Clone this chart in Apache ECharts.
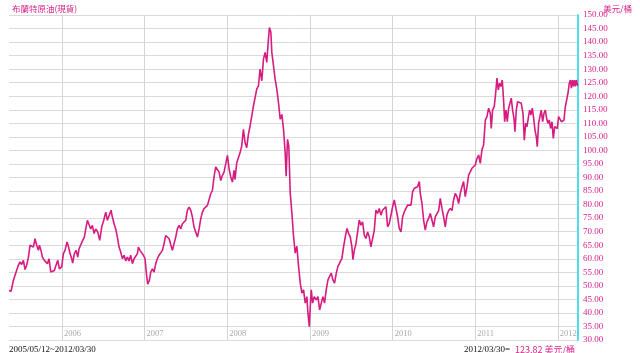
<!DOCTYPE html>
<html><head><meta charset="utf-8">
<script src="https://cdn.jsdelivr.net/npm/echarts@6/dist/echarts.min.js"></script>
<style>html,body{margin:0;padding:0;background:#fff}#c{width:640px;height:353px}</style>
</head><body><div id="c"></div>
<script>
// Brent crude (spot), USD/barrel. Dates as fractional years.
const chartTitle = '布蘭特原油(現貨)';
const unitLabel = '美元/桶';
const startDateLabel = '2005/05/12';
const endDateLabel = '2012/03/30';
const yTicks = { min: 30, max: 150, step: 5 };

const years = [
2005.359,2005.384,2005.412,2005.432,2005.452,2005.472,2005.493,2005.513,2005.533,2005.553,
2005.573,2005.594,2005.614,2005.634,2005.654,2005.674,2005.694,2005.715,2005.727,2005.747,
2005.763,2005.787,2005.803,2005.824,2005.844,2005.864,2005.884,2005.908,2005.928,2005.949,
2005.969,2005.997,2006.017,2006.037,2006.062,2006.078,2006.098,2006.118,2006.130,2006.150,
2006.171,2006.191,2006.207,2006.231,2006.251,2006.271,2006.288,2006.308,2006.328,2006.348,
2006.368,2006.389,2006.409,2006.433,2006.457,2006.481,2006.506,2006.530,2006.550,2006.570,
2006.594,2006.610,2006.631,2006.651,2006.671,2006.691,2006.711,2006.732,2006.752,2006.772,
2006.792,2006.812,2006.832,2006.853,2006.873,2006.893,2006.913,2006.925,2006.945,2006.966,
2006.986,2007.006,2007.022,2007.038,2007.058,2007.075,2007.095,2007.115,2007.135,2007.155,
2007.175,2007.196,2007.216,2007.236,2007.256,2007.276,2007.297,2007.317,2007.337,2007.357,
2007.377,2007.397,2007.418,2007.438,2007.458,2007.478,2007.498,2007.518,2007.539,2007.559,
2007.579,2007.599,2007.619,2007.640,2007.660,2007.680,2007.700,2007.720,2007.740,2007.761,
2007.781,2007.801,2007.821,2007.841,2007.861,2007.882,2007.902,2007.922,2007.942,2007.962,
2007.983,2008.003,2008.023,2008.043,2008.063,2008.083,
2008.095,2008.115,2008.135,2008.155,2008.175,2008.196,2008.216,2008.236,2008.256,2008.276,
2008.297,2008.317,2008.337,2008.357,2008.377,2008.397,2008.418,2008.438,2008.458,2008.478,
2008.498,2008.510,2008.527,2008.539,2008.559,2008.579,2008.599,2008.619,2008.640,2008.660,
2008.680,2008.700,2008.712,2008.728,2008.744,2008.761,2008.781,2008.801,2008.821,2008.841,
2008.862,2008.882,2008.902,2008.922,2008.942,2008.962,2008.975,2008.991,2009.003,2009.015,
2009.031,2009.051,2009.075,2009.096,2009.116,2009.136,2009.156,2009.176,2009.196,2009.217,
2009.237,2009.257,2009.277,2009.297,2009.318,2009.338,2009.358,
2009.386,2009.406,2009.427,2009.447,2009.467,2009.487,2009.507,2009.519,2009.536,2009.556,
2009.576,2009.596,2009.616,2009.636,2009.657,2009.677,2009.697,2009.717,2009.737,2009.758,
2009.778,2009.798,2009.818,2009.838,2009.858,2009.879,2009.899,2009.919,2009.939,2009.959,
2009.980,2010.000,2010.020,2010.040,2010.060,2010.080,2010.101,2010.121,2010.141,2010.161,
2010.181,2010.201,2010.222,2010.242,2010.262,2010.282,2010.302,2010.323,2010.335,2010.355,
2010.375,2010.395,2010.415,2010.436,2010.456,2010.476,2010.496,2010.516,2010.536,2010.557,
2010.577,2010.597,2010.617,2010.637,2010.657,2010.678,2010.698,2010.718,2010.738,2010.758,
2010.779,2010.799,2010.819,2010.839,2010.859,2010.879,2010.900,2010.920,2010.940,2010.960,
2010.980,2011.000,2011.021,2011.041,2011.061,2011.081,
2011.101,2011.122,2011.142,2011.162,2011.182,2011.194,2011.210,2011.230,2011.247,2011.263,
2011.279,2011.295,2011.311,2011.327,2011.343,2011.356,2011.372,2011.388,2011.404,2011.420,
2011.436,2011.452,2011.469,2011.481,2011.497,2011.513,2011.533,2011.557,2011.578,2011.594,
2011.610,2011.626,2011.642,2011.658,2011.674,2011.691,2011.707,2011.723,2011.739,2011.751,
2011.767,2011.783,2011.799,2011.816,2011.832,2011.848,2011.864,2011.880,2011.896,2011.912,
2011.929,2011.945,2011.961,2011.977,2011.993,2012.009,2012.025,2012.042,2012.058,2012.074,
2012.090,2012.106,2012.122,2012.138,2012.151,2012.163,2012.175,2012.187,2012.199,2012.211,
2012.223,2012.235,2012.243
];

const prices = [
48.3,48.0,52.0,53.9,53.3,57.6,58.8,57.9,59.4,56.0,
57.6,60.6,65.0,65.6,64.3,67.4,65.0,63.1,65.0,63.0,
60.6,59.4,60.0,58.2,60.0,55.1,54.5,55.7,57.6,59.4,
56.3,57.0,61.9,63.1,66.2,64.6,61.9,60.0,58.4,61.9,
63.1,60.6,63.7,64.3,66.8,68.0,71.0,74.2,73.6,71.0,
72.3,69.3,71.0,69.9,66.8,71.7,74.2,77.2,74.2,74.8,
77.9,75.4,72.9,71.0,68.0,64.3,62.5,60.0,61.3,59.2,
60.6,59.2,61.3,58.2,60.0,59.4,61.9,64.3,63.1,63.7,
61.3,60.0,54.5,50.6,52.0,55.1,56.3,55.1,58.2,60.0,
61.3,60.6,63.1,65.6,68.6,68.0,67.4,66.8,63.1,65.6,
68.0,71.0,72.3,71.0,72.9,72.3,74.2,77.9,79.1,77.9,
75.4,71.7,69.9,68.0,71.0,74.8,77.2,78.5,77.9,79.7,
80.3,84.0,85.2,90.2,93.9,94.5,92.0,88.9,90.8,92.0,
95.1,98.2,93.2,90.2,88.3,92.6,
89.3,95.4,97.3,99.1,101.6,107.8,102.8,101.0,105.9,109.0,
112.7,116.4,115.8,122.6,123.8,130.0,125.7,133.7,136.2,132.5,
141.1,145.4,143.6,136.2,131.2,126.3,122.6,117.7,111.5,113.3,
107.8,99.1,90.5,104.1,101.6,84.3,76.9,68.3,62.1,64.6,
57.2,51.0,47.3,48.5,43.6,46.0,39.9,34.9,42.3,48.5,
43.6,46.0,44.8,46.0,41.1,41.1,46.0,43.6,48.5,52.2,
53.5,54.7,52.2,51.0,54.7,57.2,58.4,
60.1,64.4,68.1,71.2,69.3,68.1,64.4,59.7,63.1,65.6,
69.9,74.3,72.4,73.6,68.7,67.5,69.9,68.1,64.4,67.5,
70.6,78.0,76.7,78.6,76.1,78.0,77.3,79.2,71.8,73.0,
76.1,79.2,81.7,78.6,75.5,71.2,69.9,75.5,77.3,78.6,
79.8,80.4,79.8,84.8,86.0,85.4,86.6,88.5,84.1,80.4,
74.3,70.6,73.6,74.9,76.7,74.3,71.8,75.5,76.1,77.8,
82.3,78.6,75.5,71.8,76.1,77.8,78.6,77.8,81.7,84.1,
82.9,80.4,84.1,86.6,88.5,82.9,86.6,90.9,91.5,93.4,
94.0,94.6,97.0,98.3,95.2,100.2,
102.0,111.2,112.5,115.6,113.7,108.1,114.9,116.2,121.1,126.7,
122.3,124.8,123.6,126.0,118.6,110.6,114.9,110.6,115.6,117.4,
119.3,114.9,111.9,106.9,114.9,118.0,117.4,117.4,113.7,103.8,
110.0,108.8,111.9,114.9,113.1,115.6,111.9,107.5,105.1,101.4,
110.0,112.5,114.9,110.6,113.7,114.9,111.9,110.0,111.2,108.1,
110.6,104.4,108.8,109.4,108.1,112.5,111.9,110.6,110.6,111.2,
116.2,118.6,121.1,124.8,126.0,123.0,126.0,123.6,126.0,123.6,
126.0,124.2,123.82
];

function yearToTime(y) {
  const Y = Math.floor(y);
  const a = Date.UTC(Y, 0, 1), b = Date.UTC(Y + 1, 0, 1);
  return a + (y - Y) * (b - a);
}
function labelToTime(s) {
  const p = s.split('/').map(Number);
  return Date.UTC(p[0], p[1] - 1, p[2]);
}

const data = years.map((y, i) => [yearToTime(y), prices[i]]);
const lastPrice = prices[prices.length - 1];

const PINK = '#d9218a';
const serif = '"Liberation Serif","Noto Sans CJK TC",serif';
const cjk = '"Noto Sans CJK TC","Liberation Serif",sans-serif';

const chart = echarts.init(document.getElementById('c'), null, { renderer: 'canvas' });
chart.setOption({
  useUTC: true,
  animation: false,
  backgroundColor: '#fff',
  title: [
    { text: chartTitle, left: 7, top: 0, textStyle: { color: PINK, fontSize: 8.5, fontWeight: 'normal', fontFamily: cjk } },
    { text: unitLabel, right: 3, top: 0, textStyle: { color: PINK, fontSize: 8.5, fontWeight: 'normal', fontFamily: cjk } },
    { text: startDateLabel + '~' + endDateLabel, left: 4, top: 340, textStyle: { color: '#111', fontSize: 9, fontWeight: 'normal', fontFamily: serif } },
    { text: '{a|' + endDateLabel + '=}  {b|' + lastPrice.toFixed(2) + ' ' + unitLabel + '}', right: 60, top: 340,
      textStyle: { fontSize: 9, fontWeight: 'normal',
        rich: { a: { color: '#111', fontSize: 9, fontFamily: serif }, b: { color: PINK, fontSize: 9, fontFamily: cjk } } } }
  ],
  grid: { left: 9, right: 62, top: 15, bottom: 13 },
  xAxis: {
    type: 'time',
    min: labelToTime(startDateLabel),
    max: labelToTime(endDateLabel),
    splitNumber: 7,
    axisLine: { show: false },
    axisTick: { show: false },
    splitLine: { show: true, showMinLine: false, showMaxLine: false, lineStyle: { color: '#d4d4d4', width: 1 } },
    axisLabel: {
      inside: true, align: 'left', margin: 2, padding: [0, 0, 0, 2],
      color: '#aaaaaa', fontSize: 8.5, fontFamily: serif,
      showMinLabel: false, showMaxLabel: false,
      formatter: v => String(new Date(v).getUTCFullYear())
    }
  },
  yAxis: {
    type: 'value', position: 'right',
    min: yTicks.min, max: yTicks.max, interval: yTicks.step,
    axisLine: { show: true, lineStyle: { color: '#4fdde9', width: 2 } },
    axisTick: { show: false },
    splitLine: { show: true, lineStyle: { color: '#dadada', width: 1 } },
    axisLabel: { margin: 5, color: PINK, fontSize: 9, fontFamily: serif, formatter: v => v.toFixed(2) }
  },
  series: [{
    type: 'line', data: data, symbol: 'none', showSymbol: false,
    lineStyle: { color: '#d81b80', width: 1.6 }
  }]
});
</script></body></html>
